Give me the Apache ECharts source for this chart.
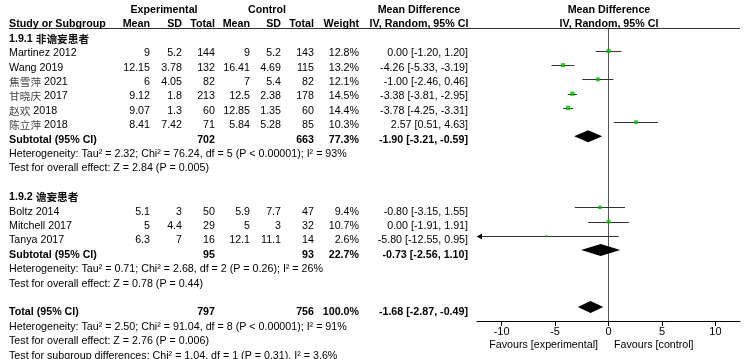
<!DOCTYPE html>
<html><head><meta charset="utf-8">
<script src="https://cdn.jsdelivr.net/npm/echarts@6/dist/echarts.min.js"></script>
<style>html,body{margin:0;padding:0;background:#fff}#c{width:749px;height:359px}</style>
</head><body><div id="c"></div><script>
// ---------- data ----------
const studies = ['Martinez 2012','Wang 2019','焦雪萍 2021','甘晓庆 2017','赵欢 2018','陈立萍 2018','Boltz 2014','Mitchell 2017','Tanya 2017'];
const studyRow = [3,4,5,6,7,8,14,15,16];
const expMean = [9,12.15,6,9.12,9.07,8.41,5.1,5,6.3];
const expSD   = [5.2,3.78,4.05,1.8,1.3,7.42,3,4.4,7];
const expN    = [144,132,82,213,60,71,50,29,16];
const ctlMean = [9,16.41,7,12.5,12.85,5.84,5.9,5,12.1];
const ctlSD   = [5.2,4.69,5.4,2.38,1.35,5.28,7.7,3,11.1];
const ctlN    = [143,115,82,178,60,85,47,32,14];
const weight  = [12.8,13.2,12.1,14.5,14.4,10.3,9.4,10.7,2.6];
const md      = [0.00,-4.26,-1.00,-3.38,-3.78,2.57,-0.80,0.00,-5.80];
const ciLo    = [-1.20,-5.33,-2.46,-3.81,-4.25,0.51,-3.15,-1.91,-12.55];
const ciHi    = [1.20,-3.19,0.46,-2.95,-3.31,4.63,1.55,1.91,0.95];

const poolNames = ['Subtotal (95% CI)','Subtotal (95% CI)','Total (95% CI)'];
const poolRow   = [9,17,21];
const poolExpN  = [702,95,797];
const poolCtlN  = [663,93,756];
const poolWt    = ['77.3%','22.7%','100.0%'];
const poolMd    = [-1.90,-0.73,-1.68];
const poolLo    = [-3.21,-2.56,-2.87];
const poolHi    = [-0.59,1.10,-0.49];

const groupTitles = ['1.9.1 非谵妄患者','1.9.2 谵妄患者'];
const groupRow = [2,13];
const notes = [
  'Heterogeneity: Tau² = 2.32; Chi² = 76.24, df = 5 (P < 0.00001); I² = 93%',
  'Test for overall effect: Z = 2.84 (P = 0.005)',
  'Heterogeneity: Tau² = 0.71; Chi² = 2.68, df = 2 (P = 0.26); I² = 26%',
  'Test for overall effect: Z = 0.78 (P = 0.44)',
  'Heterogeneity: Tau² = 2.50; Chi² = 91.04, df = 8 (P < 0.00001); I² = 91%',
  'Test for overall effect: Z = 2.76 (P = 0.006)',
  'Test for subgroup differences: Chi² = 1.04, df = 1 (P = 0.31), I² = 3.6%'
];
const noteRow = [10,11,18,19,22,23,24];
const xTicks = [-10,-5,0,5,10];

// ---------- layout ----------
const W = 749, H = 359;
const ROW0 = 8.33, ROWH = 14.22;      // marks: pixel y of row 0, row pitch
const TROW0 = 10, TROWH = 14.4;       // text: pixel y of row 0, row pitch
const FTOP = 28, FBOT = 321, FLEFT = 477, FRIGHT = 740;
const XMIN = -12.3, XMAX = 12.3;
const C = {label:9, eMean:150, eSD:182, eN:215, cMean:250, cSD:281, cN:314, wt:359, ci:468,
           expHead:164, ctlHead:267, mdHead:419, fHead:609};
const FONT = '"Liberation Sans", Arial, "Noto Sans CJK SC", sans-serif';
const FS = '10.7px ';

const texts = [];
function T(x, r, t, align, bold) { texts.push({x, r, t, align, bold}); }
const cn = s => s.replace(/[\u4e00-\u9fff]+/g, m => '{cn|' + m + '}');
const f2 = v => v.toFixed(2);

// header
T(C.expHead,0,'Experimental','center',true);
T(C.ctlHead,0,'Control','center',true);
T(C.mdHead,0,'Mean Difference','center',true);
T(C.fHead,0,'Mean Difference','center',true);
T(C.label,1,'Study or Subgroup','left',true);
T(C.eMean,1,'Mean','right',true); T(C.eSD,1,'SD','right',true); T(C.eN,1,'Total','right',true);
T(C.cMean,1,'Mean','right',true); T(C.cSD,1,'SD','right',true); T(C.cN,1,'Total','right',true);
T(C.wt,1,'Weight','right',true);
T(C.mdHead,1,'IV, Random, 95% CI','center',true);
T(C.fHead,1,'IV, Random, 95% CI','center',true);
groupTitles.forEach((g,i)=>T(C.label,groupRow[i],cn(g),'left',true));
studies.forEach((s,i)=>{
  const r = studyRow[i];
  T(C.label,r,cn(s),'left',false);
  T(C.eMean,r,String(expMean[i]),'right',false);
  T(C.eSD,r,String(expSD[i]),'right',false);
  T(C.eN,r,String(expN[i]),'right',false);
  T(C.cMean,r,String(ctlMean[i]),'right',false);
  T(C.cSD,r,String(ctlSD[i]),'right',false);
  T(C.cN,r,String(ctlN[i]),'right',false);
  T(C.wt,r,weight[i].toFixed(1)+'%','right',false);
  T(C.ci,r,f2(md[i])+' ['+f2(ciLo[i])+', '+f2(ciHi[i])+']','right',false);
});
poolNames.forEach((s,i)=>{
  const r = poolRow[i];
  T(C.label,r,s,'left',true);
  T(C.eN,r,String(poolExpN[i]),'right',true);
  T(C.cN,r,String(poolCtlN[i]),'right',true);
  T(C.wt,r,poolWt[i],'right',true);
  T(C.ci,r,f2(poolMd[i])+' ['+f2(poolLo[i])+', '+f2(poolHi[i])+']','right',true);
});
notes.forEach((s,i)=>T(C.label,noteRow[i],s,'left',false));
T(598,(345-TROW0)/TROWH,'Favours [experimental]','right',false);
T(614,(345-TROW0)/TROWH,'Favours [control]','left',false);

const chart = echarts.init(document.getElementById('c'), null, {renderer:'canvas'});
chart.setOption({
  animation:false,
  backgroundColor:'#fff',
  grid:[
    {left:0, top:0, width:W, height:H},
    {left:FLEFT, top:FTOP, width:FRIGHT-FLEFT, height:FBOT-FTOP}
  ],
  xAxis:[
    {gridIndex:0, type:'value', min:0, max:W, show:false},
    {gridIndex:1, type:'value', min:XMIN, max:XMAX,
     axisLine:{show:true, onZero:false, lineStyle:{color:'#000', width:1}},
     axisTick:{show:true, customValues:xTicks, length:5, lineStyle:{color:'#000'}},
     axisLabel:{show:true, customValues:xTicks, color:'#000', fontSize:11, fontFamily:FONT, margin:5},
     splitLine:{show:false}}
  ],
  yAxis:[
    {gridIndex:0, type:'value', inverse:true, min:-TROW0/TROWH, max:(H-TROW0)/TROWH, show:false},
    {gridIndex:1, type:'value', inverse:true, min:(FTOP-ROW0)/ROWH, max:(FBOT-ROW0)/ROWH,
     axisLine:{show:true, onZero:true, lineStyle:{color:'#555', width:1}},
     axisTick:{show:false}, axisLabel:{show:false}, splitLine:{show:false}}
  ],
  series:[
    { // header rule
      type:'custom', xAxisIndex:1, yAxisIndex:1, clip:false, silent:true,
      data:[[0, (FTOP-ROW0)/ROWH]],
      renderItem:(params, api)=>{
        const q = api.coord([XMAX, api.value(1)]);
        const y = Math.round(q[1]) + 0.5;
        return {type:'line', shape:{x1:C.label, y1:y, x2:q[0], y2:y}, style:{stroke:'#333', lineWidth:1}};
      }
    },
    { // table text
      type:'custom', xAxisIndex:0, yAxisIndex:0, clip:false, silent:true, z:5,
      data:texts.map(t=>[t.x, t.r]),
      renderItem:(params, api)=>{
        const it = texts[params.dataIndex];
        const p = api.coord([api.value(0), api.value(1)]);
        const font = (it.bold ? 'bold ' : '') + FS + FONT;
        return {type:'text', x:p[0], y:p[1],
          style:{text:it.t, align:it.align, verticalAlign:'middle', font:font, fill:'#000',
            rich:{cn:{font:(it.bold?'bold ':'')+FS+'"Noto Sans CJK SC", sans-serif', fill:it.bold?'#111':'#444'}}}};
      }
    },
    { // CI lines
      type:'custom', xAxisIndex:1, yAxisIndex:1, clip:false, silent:true, z:3,
      data:studies.map((s,i)=>[ciLo[i], ciHi[i], studyRow[i]]),
      renderItem:(params, api)=>{
        const lo = api.value(0), hi = api.value(1), r = api.value(2);
        const p1 = api.coord([Math.max(lo, XMIN), r]);
        const p2 = api.coord([Math.min(hi, XMAX), r]);
        const y = Math.round(p1[1]) + 0.5;
        const ch = [{type:'line', shape:{x1:p1[0], y1:y, x2:p2[0], y2:y}, style:{stroke:'#333', lineWidth:1}}];
        if (lo < XMIN) ch.push({type:'polygon', shape:{points:[[p1[0],y],[p1[0]+5,y-3],[p1[0]+5,y+3]]}, style:{fill:'#000'}});
        if (hi > XMAX) ch.push({type:'polygon', shape:{points:[[p2[0],y],[p2[0]-5,y-3],[p2[0]-5,y+3]]}, style:{fill:'#000'}});
        return {type:'group', children:ch};
      }
    },
    { // study squares
      type:'scatter', xAxisIndex:1, yAxisIndex:1, symbol:'rect', z:4, silent:true,
      data:studies.map((s,i)=>[md[i], studyRow[i], weight[i]]),
      symbolSize:(v)=>1.15*Math.sqrt(v[2]),
      itemStyle:{color:'#00c000'}
    },
    { // pooled diamonds
      type:'custom', xAxisIndex:1, yAxisIndex:1, clip:false, silent:true, z:4,
      data:poolNames.map((s,i)=>[poolLo[i], poolMd[i], poolHi[i], poolRow[i]]),
      renderItem:(params, api)=>{
        const r = api.value(3);
        const a = api.coord([api.value(0), r]);
        const m = api.coord([api.value(1), r]);
        const b = api.coord([api.value(2), r]);
        const h = 6;
        return {type:'polygon', shape:{points:[[a[0],a[1]],[m[0],m[1]-h],[b[0],b[1]],[m[0],m[1]+h]]}, style:{fill:'#000'}};
      }
    }
  ]
});
</script></body></html>
